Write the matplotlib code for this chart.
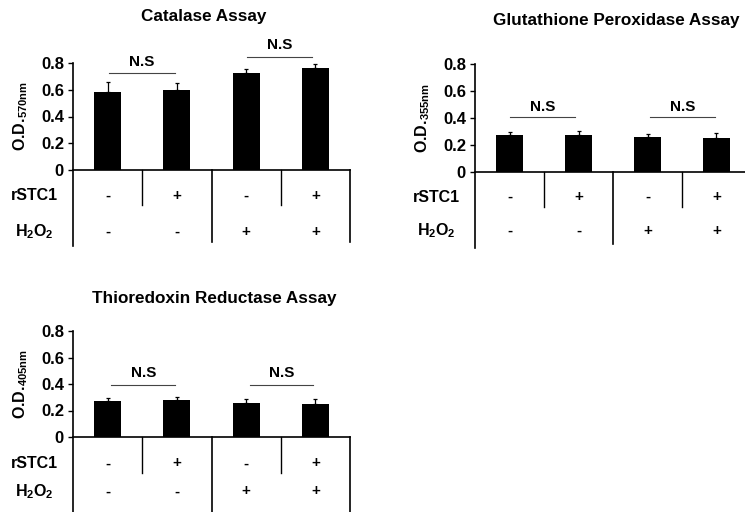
import numpy as np
import matplotlib
matplotlib.use("Agg")
import matplotlib.pyplot as plt

plt.rcParams['font.family'] = ['Liberation Sans', 'DejaVu Sans']
plt.rcParams['font.weight'] = 'bold'
plt.rcParams['mathtext.fontset'] = 'custom'
plt.rcParams['mathtext.rm'] = 'Liberation Sans:bold'
plt.rcParams['mathtext.bf'] = 'Liberation Sans:bold'

# data
rstc1 = ['-', '+', '-', '+']
h2o2 = ['-', '-', '+', '+']

catalase = [0.585, 0.595, 0.727, 0.765]
catalase_err = [0.075, 0.055, 0.025, 0.027]

gpx = [0.275, 0.275, 0.26, 0.253]
gpx_err = [0.02, 0.03, 0.022, 0.034]

trxr = [0.272, 0.277, 0.257, 0.247]
trxr_err = [0.025, 0.028, 0.03, 0.04]

yticks = [0, 0.2, 0.4, 0.6, 0.8]
ytick_labels = ['0', '0.2', '0.4', '0.6', '0.8']


def panel(ax, title, ylabel, vals, errs, ns, rows, title_xy):
    x = np.arange(len(vals))
    ax.bar(x, vals, width=0.39, color='black', zorder=3)
    ax.errorbar(x, vals, yerr=[np.zeros(len(errs)), errs], fmt='none',
                ecolor='black', elinewidth=0.9, capsize=1.2, capthick=0.9, zorder=2)
    ax.set_xlim(-0.5, 3.5)
    ax.set_ylim(0, 0.8)
    ax.set_yticks(yticks)
    ax.set_yticklabels(ytick_labels, fontsize=12, fontweight='bold')
    ax.tick_params(axis='y', length=3.5, width=1, pad=3)
    ax.set_xticks([])
    for s in ['top', 'right', 'left']:
        ax.spines[s].set_visible(False)
    ax.spines['bottom'].set_linewidth(1.2)

    r_row, h_row, short_end, full_end = rows
    # left axis line running down into the condition table
    ax.plot([-0.5, -0.5], [0.8, full_end - 0.03], color='black', lw=1.2, clip_on=False)
    for xv in [0.5, 2.5]:
        ax.plot([xv, xv], [0, short_end], color='black', lw=1.0, clip_on=False)
    for xv in [1.5, 3.5]:
        ax.plot([xv, xv], [0, full_end], color='black', lw=1.2, clip_on=False)

    for i in range(len(vals)):
        ax.text(i, r_row, rstc1[i], ha='center', va='center', fontsize=11, fontweight='bold')
        ax.text(i, h_row, h2o2[i], ha='center', va='center', fontsize=11, fontweight='bold')
    ax.text(-0.5 - 0.56, r_row, 'rSTC1', ha='center', va='center', fontsize=11.5, fontweight='bold')
    ax.text(-0.5 - 0.56, h_row, r'H$_\mathrm{2}$O$_\mathrm{2}$', ha='center', va='center',
            fontsize=11.5, fontweight='bold')

    # N.S brackets
    for (x0, x1, ly, ty) in ns:
        ax.plot([x0, x1], [ly, ly], color='#444444', lw=0.8, clip_on=False)
        ax.text((x0 + x1) / 2, ty, 'N.S', ha='center', va='center', fontsize=11,
                fontweight='bold')

    ax.text(-0.19, 0.5, ylabel, transform=ax.transAxes, rotation=90, ha='center',
            va='center', fontsize=11.5, fontweight='bold')
    ax.text(title_xy[0], title_xy[1], title, transform=ax.figure.transFigure,
            ha='center', va='center', fontsize=12.3, fontweight='bold')


fig = plt.figure(figsize=(7.45, 5.12), dpi=100)
W, H = 745.0, 512.0

ax1 = fig.add_axes([73 / W, 1 - 170 / H, 277 / W, 107 / H])
panel(ax1, 'Catalase Assay', r'O.D.$_\mathrm{570nm}$', catalase, catalase_err,
      [(0.02, 0.97, 0.727, 0.81), (2.01, 2.95, 0.847, 0.935)],
      (-0.194, -0.464, -0.262, -0.54), (204 / W, 1 - 17 / H))

ax2 = fig.add_axes([475 / W, 1 - 172 / H, 276 / W, 108 / H])
panel(ax2, 'Glutathione Peroxidase Assay', r'O.D.$_\mathrm{355nm}$', gpx, gpx_err,
      [(0.01, 0.95, 0.406, 0.485), (2.04, 2.98, 0.406, 0.485)],
      (-0.186, -0.438, -0.26, -0.53), (616 / W, 1 - 20 / H))

ax3 = fig.add_axes([73 / W, 1 - 437 / H, 277 / W, 106 / H])
panel(ax3, 'Thioredoxin Reductase Assay', r'O.D.$_\mathrm{405nm}$', trxr, trxr_err,
      [(0.05, 0.98, 0.391, 0.485), (2.05, 2.97, 0.391, 0.485)],
      (-0.2, -0.41, -0.275, -0.6), (214 / W, 1 - 298 / H))

fig.savefig('out.png', dpi=100)
